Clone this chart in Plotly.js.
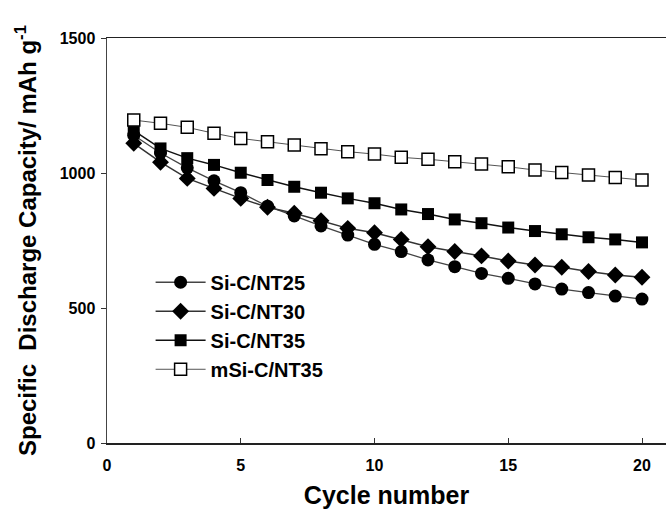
<!DOCTYPE html>
<html>
<head>
<meta charset="utf-8">
<script src="https://cdn.plot.ly/plotly-3.0.1.min.js"></script>
<style>html,body{margin:0;padding:0;background:#fff;}#chart{width:666px;height:515px;}</style>
</head>
<body>
<div id="chart"></div>
<script>
const cycles = [1,2,3,4,5,6,7,8,9,10,11,12,13,14,15,16,17,18,19,20];
const siCNT25 = [1140,1074,1019,971,927,877,841,804,770,736,709,678,653,628,610,589,570,557,544,533];
const siCNT30 = [1110,1040,980,943,906,873,851,823,795,779,754,727,709,693,674,659,651,635,622,614];
const siCNT35 = [1157,1091,1055,1030,1001,974,949,927,906,888,865,848,828,814,798,785,773,762,754,743];
const mSiCNT35 = [1196,1184,1169,1147,1128,1116,1104,1090,1079,1070,1058,1051,1042,1033,1023,1011,1002,993,983,974];
const seriesNames = ['Si-C/NT25','Si-C/NT30','Si-C/NT35','mSi-C/NT35'];
const xTicks = [0,5,10,15,20];
const yTicks = [0,500,1000,1500];

const F = 'Arial, "Liberation Sans", sans-serif';
const traces = [
  {x: cycles, y: siCNT25, name: seriesNames[0], legendgroup:'a', mode:'lines+markers',
   line:{color:'#444', width:1.3}, marker:{symbol:'circle', size:13, color:'#000', line:{width:0}}},
  {x: cycles, y: siCNT30, name: seriesNames[1], legendgroup:'b', mode:'lines+markers',
   line:{color:'#333', width:1.5}, marker:{symbol:'diamond', size:13, color:'#000', line:{width:0}}},
  {x: cycles, y: siCNT35, name: seriesNames[2], legendgroup:'c', mode:'lines+markers',
   line:{color:'#111', width:1.5}, marker:{symbol:'square', size:12, color:'#000', line:{width:0}}},
  {x: cycles, y: mSiCNT35, name: seriesNames[3], legendgroup:'d', mode:'lines+markers',
   line:{color:'#555', width:1}, marker:{symbol:'square', size:12, color:'#fff', line:{width:1.5, color:'#000'}}}
];

const layout = {
  width: 666, height: 515,
  margin: {l:107, r:0, t:38, b:72, pad:0},
  paper_bgcolor:'#fff', plot_bgcolor:'#fff',
  showlegend: true,
  legend: {x: 0.078, y: 0.445, xanchor:'left', yanchor:'top', bgcolor:'rgba(0,0,0,0)',
           font:{family:F, size:20, color:'#000', weight:'bold'}, tracegroupgap: 0, itemwidth: 50},
  xaxis: {range:[0, 559/26.75], tickvals:xTicks, ticktext:xTicks.map(String),
          ticks:'inside', ticklen:5, tickwidth:1, tickcolor:'#333',
          showline:true, linecolor:'#222', linewidth:1.5, mirror:true,
          showgrid:false, zeroline:false, ticklabelstandoff: 7,
          tickfont:{family:F, size:16, color:'#000', weight:'bold'},
          title:{text:'Cycle number', font:{family:F, size:25, color:'#000', weight:'bold'}, standoff: 14}},
  yaxis: {range:[0,1500], tickvals:yTicks, ticktext:yTicks.map(String),
          ticks:'outside', ticklen:5, tickwidth:1, tickcolor:'#333',
          showline:true, linecolor:'#444', linewidth:1.5,
          showgrid:false, zeroline:false, ticklabelstandoff: 2,
          tickfont:{family:F, size:16, color:'#000', weight:'bold'},
          title:{text:'Specific\u00a0 Discharge Capacity/ mAh g<sup>-1</sup>', font:{family:F, size:24, color:'#000', weight:'bold'}, standoff: 16}}
};

Plotly.newPlot('chart', traces, layout, {displayModeBar:false, staticPlot:true});
</script>
</body>
</html>
